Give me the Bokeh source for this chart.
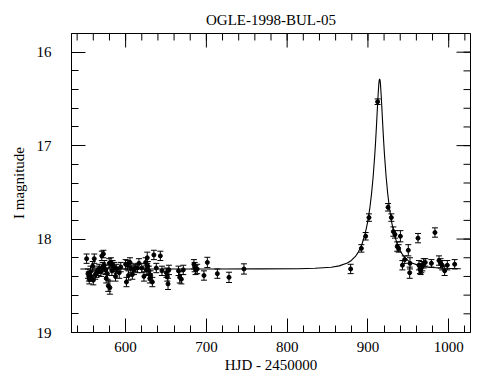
import math
from bokeh.plotting import figure
from bokeh.models import Range1d, FixedTicker, ColumnDataSource
from bokeh.embed import file_html
from bokeh.resources import INLINE

# ---- data ----
hjd = [551.7, 553.4, 554.5, 555.0, 556.5, 557.1, 559.2, 560.0, 561.2, 562.5,
       564.0, 566.0, 567.4, 569.5, 570.5, 571.6, 572.5, 573.6, 575.0, 576.0,
       577.4, 578.5, 579.7, 580.5, 581.9, 583.0, 583.9, 585.9, 587.5, 589.0,
       592.1, 594.0, 600.0, 601.0, 602.2, 603.5, 605.4, 606.5, 608.3, 610.3,
       612.0, 614.5, 616.5, 620.0, 622.7, 624.8, 625.5, 626.8, 627.5, 628.8,
       630.0, 631.0, 633.1, 635.0, 638.0, 643.0, 645.0, 650.5, 651.6, 652.5,
       653.6, 665.5, 667.0, 669.0, 671.4, 684.6, 685.5, 686.6, 688.6, 697.0,
       701.2, 713.6, 728.0, 746.5,
       878.6, 891.9, 897.2, 901.3, 912.0, 924.9, 929.0, 931.5, 933.5, 936.3,
       938.0, 940.2, 942.7, 945.5, 950.0, 951.7, 952.1, 962.0, 963.2, 964.4,
       965.3, 966.1, 967.4, 969.0, 971.0, 978.6, 983.0, 988.0, 990.0, 992.0,
       995.0, 998.3, 1007.4]
imag = [18.21, 18.37, 18.40, 18.43, 18.35, 18.40, 18.29, 18.44, 18.21, 18.38,
        18.36, 18.34, 18.32, 18.35, 18.18, 18.30, 18.16, 18.28, 18.33, 18.42,
        18.37, 18.50, 18.26, 18.52, 18.25, 18.34, 18.28, 18.30, 18.40, 18.32,
        18.36, 18.30, 18.27, 18.46, 18.28, 18.39, 18.25, 18.31, 18.38, 18.33,
        18.31, 18.31, 18.26, 18.31, 18.40, 18.25, 18.33, 18.20, 18.29, 18.34,
        18.42, 18.39, 18.46, 18.17, 18.31, 18.18, 18.34, 18.36, 18.40, 18.48,
        18.33, 18.34, 18.41, 18.43, 18.33, 18.27, 18.30, 18.33, 18.32, 18.39,
        18.25, 18.37, 18.41, 18.32,
        18.32, 18.10, 17.97, 17.77, 16.53, 17.66, 17.77, 17.92, 17.95, 18.08,
        18.10, 17.97, 18.28, 18.22, 18.12, 18.36, 18.26, 17.99, 18.28, 18.32,
        18.34, 18.31, 18.29, 18.26, 18.25, 18.26, 17.93, 18.23, 18.26, 18.28,
        18.34, 18.28, 18.27]
ierr = [0.05, 0.05, 0.05, 0.05, 0.06, 0.05, 0.05, 0.05, 0.05, 0.05,
        0.05, 0.05, 0.05, 0.05, 0.05, 0.05, 0.04, 0.05, 0.05, 0.05,
        0.06, 0.06, 0.05, 0.07, 0.05, 0.05, 0.05, 0.05, 0.05, 0.05,
        0.06, 0.05, 0.05, 0.05, 0.05, 0.05, 0.05, 0.05, 0.05, 0.05,
        0.04, 0.05, 0.05, 0.05, 0.05, 0.05, 0.05, 0.06, 0.05, 0.05,
        0.05, 0.05, 0.05, 0.05, 0.05, 0.05, 0.05, 0.05, 0.05, 0.06,
        0.05, 0.05, 0.06, 0.05, 0.05, 0.05, 0.05, 0.05, 0.05, 0.05,
        0.055, 0.05, 0.055, 0.055,
        0.05, 0.04, 0.04, 0.04, 0.03, 0.04, 0.04, 0.05, 0.04, 0.05,
        0.04, 0.06, 0.05, 0.04, 0.06, 0.06, 0.06, 0.05, 0.05, 0.05,
        0.04, 0.05, 0.05, 0.05, 0.04, 0.04, 0.05, 0.05, 0.05, 0.05,
        0.05, 0.05, 0.05]

model_t = [544.0, 714.5, 764.5, 814.5, 834.5, 854.5, 864.5, 874.5, 879.5, 884.5,
           888.5, 892.5, 896.5, 899.5, 902.5, 904.5, 906.5, 908.5, 909.5, 910.5,
           911.5, 912.5, 913.5, 914.0, 914.5, 915.0, 915.5, 916.5, 917.5, 918.5,
           919.5, 920.5, 922.5, 924.5, 926.5, 929.5, 932.5, 936.5, 940.5, 944.5,
           949.5, 954.5, 964.5, 974.5, 994.5, 1014.5, 1015.0]
model_mag = [18.320, 18.320, 18.319, 18.317, 18.313, 18.302, 18.287, 18.257, 18.229, 18.186,
             18.134, 18.058, 17.946, 17.825, 17.660, 17.514, 17.330, 17.096, 16.957, 16.802,
             16.636, 16.471, 16.339, 16.299, 16.286, 16.299, 16.339, 16.471, 16.636, 16.802,
             16.957, 17.096, 17.330, 17.514, 17.660, 17.825, 17.946, 18.058, 18.134, 18.186,
             18.229, 18.257, 18.287, 18.302, 18.313, 18.317, 18.317]

x_major = [600, 700, 800, 900, 1000]
x_minor = list(range(540, 1021, 20))
y_major = [16, 17, 18, 19]
y_minor = [round(15.8 + 0.2 * i, 1) for i in range(17)]

FONT = "Liberation Serif"
X0, X1 = 533.0, 1027.0
Y_BOT, Y_TOP = 19.0, 15.8

W, H = 490, 380
BL, BR, BT, BB = 71, 20, 33, 48

p = figure(width=W, height=H, output_backend="svg", toolbar_location=None,
           x_range=Range1d(X0, X1), y_range=Range1d(Y_BOT, Y_TOP),
           min_border_left=BL, min_border_right=BR, min_border_top=BT,
           min_border_bottom=BB)

p.xgrid.visible = False
p.ygrid.visible = False
p.outline_line_color = "black"

p.title.text = "OGLE-1998-BUL-05"
p.title.align = "center"
p.title.text_font = FONT
p.title.text_font_size = "15px"
p.title.text_font_style = "normal"
p.title.text_color = "black"
p.title.standoff = 11

xb = p.below[0]
yl = p.left[0]
xb.ticker = FixedTicker(ticks=x_major, minor_ticks=x_minor)
yl.ticker = FixedTicker(ticks=y_major, minor_ticks=y_minor)
for ax in (xb, yl):
    ax.major_tick_in = 14
    ax.major_tick_out = 0
    ax.minor_tick_in = 7
    ax.minor_tick_out = 0
    ax.major_tick_line_color = "black"
    ax.minor_tick_line_color = "black"
    ax.axis_line_color = "black"
    ax.major_label_text_font = FONT
    ax.major_label_text_font_size = "15px"
    ax.major_label_text_color = "black"
    ax.axis_label_text_font = FONT
    ax.axis_label_text_font_size = "15px"
    ax.axis_label_text_font_style = "normal"
    ax.axis_label_text_color = "black"

xb.axis_label = "HJD - 2450000"
xb.major_label_standoff = 9
xb.axis_label_standoff = 2
yl.axis_label = "I magnitude"
yl.major_label_standoff = 20
yl.axis_label_standoff = 7

src = ColumnDataSource(dict(
    x=hjd, y=imag,
    lo=[m - e for m, e in zip(imag, ierr)],
    hi=[m + e for m, e in zip(imag, ierr)],
))

p.line(model_t, model_mag, line_color="black", line_width=1.1)

# error bars with caps
p.segment(x0="x", x1="x", y0="lo", y1="hi", source=src, line_color="black", line_width=1)
p.scatter("x", "lo", source=src, marker="dash", size=6, line_color="black", line_width=1)
p.scatter("x", "hi", source=src, marker="dash", size=6, line_color="black", line_width=1)
p.scatter("x", "y", source=src, marker="circle", size=4,
          fill_color="black", line_color="black")

# inward ticks on the top and right sides, drawn as dash markers whose centre
# sits half a tick length inside the frame
fw = W - BL - BR
fh = H - BT - BB
dx_per_px = (X1 - X0) / fw
dy_per_px = (Y_BOT - Y_TOP) / fh
tx = x_major + x_minor
tx_len = [14] * len(x_major) + [7] * len(x_minor)
ty = y_major + y_minor
ty_len = [14] * len(y_major) + [7] * len(y_minor)

top_src = ColumnDataSource(dict(
    x=tx, y=[Y_TOP + 0.5 * L * dy_per_px for L in tx_len], s=tx_len))
right_src = ColumnDataSource(dict(
    x=[X1 - 0.5 * L * dx_per_px for L in ty_len], y=ty, s=ty_len))
p.scatter("x", "y", size="s", source=top_src, marker="dash", angle=math.pi / 2,
          line_color="black", line_width=1)
p.scatter("x", "y", size="s", source=right_src, marker="dash", angle=0,
          line_color="black", line_width=1)

open("out.html", "w").write(file_html(p, INLINE))
